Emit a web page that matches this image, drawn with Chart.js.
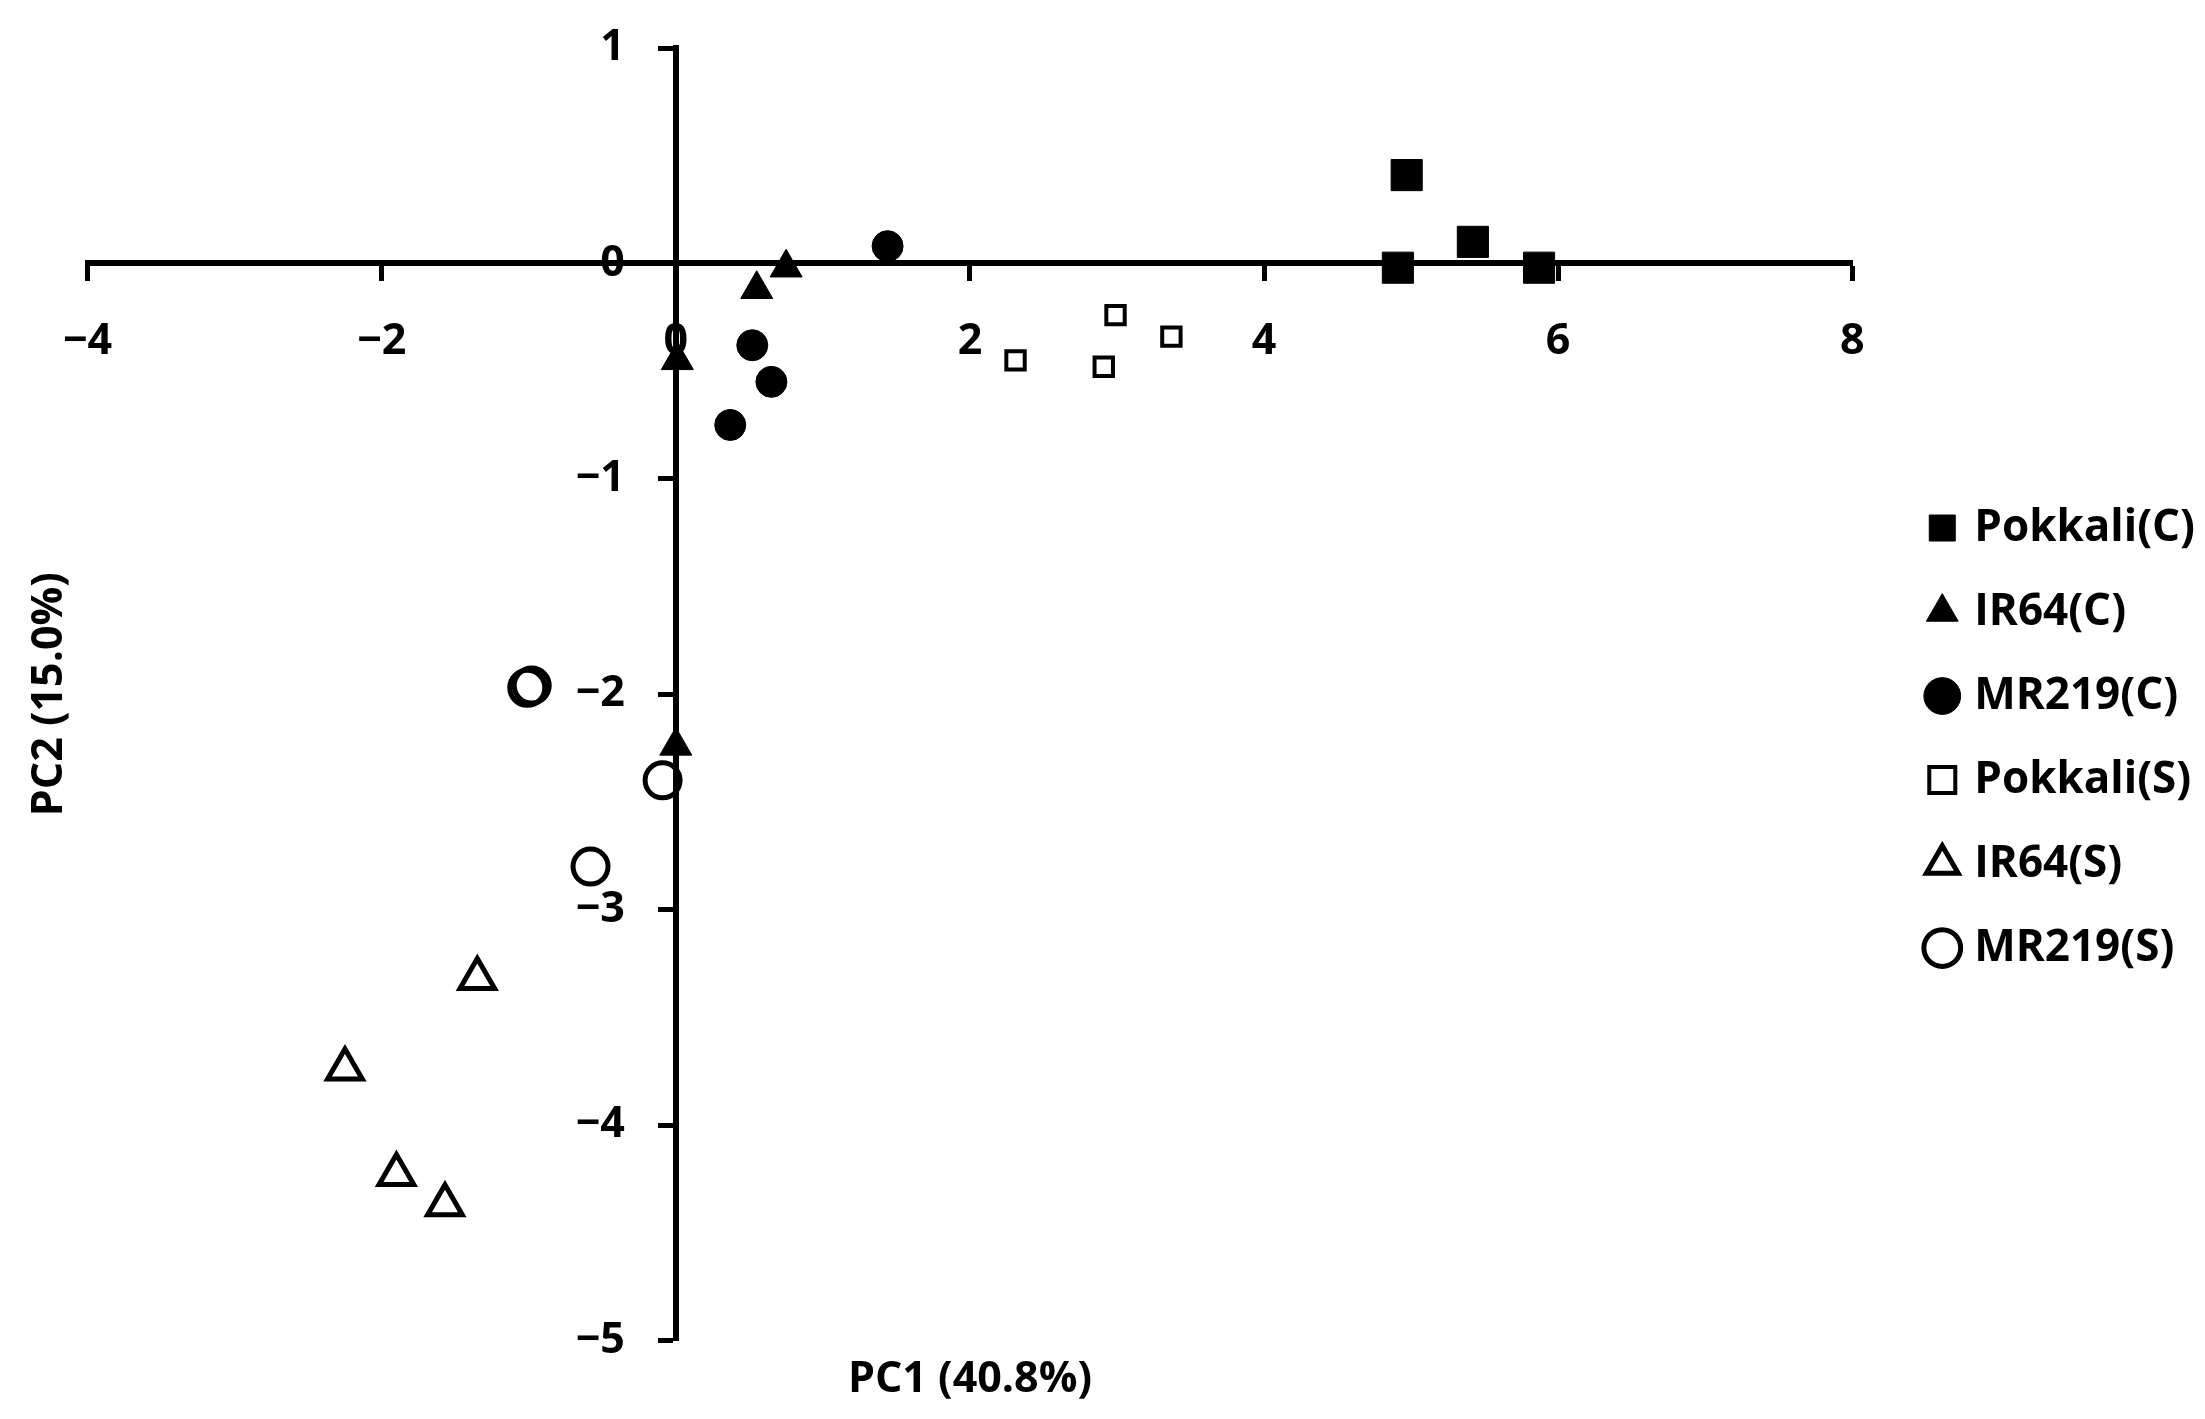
<!DOCTYPE html>
<html><head><meta charset="utf-8">
<script src="https://cdn.jsdelivr.net/npm/chart.js@4"></script>
<style>html,body{margin:0;padding:0;background:#fff}canvas{display:block}</style>
</head><body>
<canvas id="c" width="2205" height="1419"></canvas>
<script>
// ---- data ----
const seriesNames = ['Pokkali(C)', 'IR64(C)', 'MR219(C)', 'Pokkali(S)', 'IR64(S)', 'MR219(S)'];
const pokkaliC = [[4.97, 0.41], [4.91, -0.02], [5.42, 0.10], [5.87, -0.02]];
const ir64C    = [[0.75, -0.02], [0.55, -0.12], [0.01, -0.45], [0.00, -2.24]];
const mr219C   = [[1.44, 0.08], [0.52, -0.38], [0.65, -0.55], [0.37, -0.75]];
const pokkaliS = [[2.31, -0.45], [2.99, -0.24], [2.91, -0.48], [3.37, -0.34]];
const ir64S    = [[-1.35, -3.32], [-2.25, -3.74], [-1.90, -4.23], [-1.57, -4.37]];
const mr219S   = [[-1.01, -1.97], [-0.98, -1.96], [-0.09, -2.40], [-0.58, -2.80]];
const xTickValues = [-4, -2, 0, 2, 4, 6, 8];
const yTickValues = [1, 0, -1, -2, -3, -4, -5];
const xTitle = 'PC1 (40.8%)';
const yTitle = 'PC2 (15.0%)';

// ---- styles ----
const FONT = "'Open Sans', 'DejaVu Sans', sans-serif";
const seriesData = [pokkaliC, ir64C, mr219C, pokkaliS, ir64S, mr219S];
const markerStyles = [
  {pointStyle: 'rect', radius: 22, fill: '#000', bw: 1},
  {pointStyle: 'triangle', radius: 18.5, fill: '#000', bw: 1},
  {pointStyle: 'circle', radius: 15.5, fill: '#000', bw: 1},
  {pointStyle: 'rect', radius: 13, fill: 'rgba(0,0,0,0)', bw: 4},
  {pointStyle: 'triangle', radius: 20, fill: 'rgba(0,0,0,0)', bw: 5},
  {pointStyle: 'circle', radius: 17.5, fill: 'rgba(0,0,0,0)', bw: 5}
];
const Y_LABEL_SHIFT = 51; // gap between y axis line and right edge of its tick labels

const fmt = v => (v < 0 ? '\u2212' + Math.abs(v) : String(v));

const datasets = seriesNames.map((name, i) => ({
  label: name,
  data: seriesData[i].map(p => ({x: p[0], y: p[1]})),
  xAxisID: 'x',
  yAxisID: 'y',
  showLine: false,
  pointStyle: markerStyles[i].pointStyle,
  pointRadius: markerStyles[i].radius,
  pointHoverRadius: markerStyles[i].radius,
  backgroundColor: markerStyles[i].fill,
  borderColor: '#000',
  borderWidth: markerStyles[i].bw,
  pointBorderWidth: markerStyles[i].bw
}));

const tickFont = {family: FONT, size: 43, weight: '700', lineHeight: 1};
const titleFont = {family: FONT, size: 43, weight: '700', lineHeight: 1.2};

// shift the labels of the crossing y axis to the left of its tick marks
const yLabelShift = {
  id: 'yLabelShift',
  beforeDraw(chart) {
    const s = chart.scales.y;
    const items = s.getLabelItems(chart.chartArea);
    items.forEach(it => { it.options.translation[0] -= Y_LABEL_SHIFT; });
  }
};

new Chart(document.getElementById('c'), {
  type: 'scatter',
  data: {datasets},
  plugins: [yLabelShift],
  options: {
    responsive: false,
    animation: false,
    devicePixelRatio: 1,
    layout: {autoPadding: false, padding: {left: 0, top: 48, right: 0, bottom: 13}},
    plugins: {
      tooltip: {enabled: false},
      legend: {
        display: true,
        position: 'right',
        align: 'center',
        maxWidth: 420,
        title: {display: true, text: ' ', font: {size: 15, lineHeight: 1.47}, padding: 0},
        labels: {
          usePointStyle: true,
          boxWidth: 20,
          boxHeight: 26,
          padding: 40,
          color: '#000',
          font: {family: FONT, size: 44, weight: '700'}
        }
      }
    },
    scales: {
      x: {
        type: 'linear',
        position: {y: 0},
        min: -4, max: 8,
        afterBuildTicks: s => { s.ticks = xTickValues.map(v => ({value: v})); },
        ticks: {color: '#000', font: tickFont, padding: 42, callback: v => fmt(v), maxRotation: 0, autoSkip: false},
        grid: {display: true, drawOnChartArea: false, drawTicks: true, tickLength: 15, tickWidth: 5, tickColor: '#000'},
        border: {display: true, color: '#000', width: 6}
      },
      y: {
        type: 'linear',
        position: {x: 0},
        min: -5, max: 1,
        afterBuildTicks: s => { s.ticks = yTickValues.map(v => ({value: v})); },
        ticks: {color: '#000', font: tickFont, padding: 0, callback: v => fmt(v), autoSkip: false},
        grid: {display: true, drawOnChartArea: false, drawTicks: true, tickLength: 15, tickWidth: 5, tickColor: '#000'},
        border: {display: true, color: '#000', width: 6}
      },
      xTitleAxis: {
        type: 'linear',
        axis: 'x',
        position: 'bottom',
        ticks: {display: false},
        grid: {display: false, drawTicks: false},
        border: {display: false},
        title: {display: true, text: xTitle, color: '#000', font: titleFont, padding: {top: 14, bottom: 0}}
      },
      yTitleAxis: {
        type: 'linear',
        axis: 'y',
        position: 'left',
        ticks: {display: false},
        grid: {display: false, drawTicks: false},
        border: {display: false},
        title: {display: true, text: yTitle, color: '#000', font: titleFont, padding: {top: 24, bottom: 12}}
      },
      gapAxis: {
        type: 'linear',
        axis: 'y',
        position: 'right',
        ticks: {display: false},
        grid: {display: false, drawTicks: false},
        border: {display: false},
        title: {display: false},
        afterFit: s => { s.width = 40; }
      }
    }
  }
});
</script>
</body></html>
